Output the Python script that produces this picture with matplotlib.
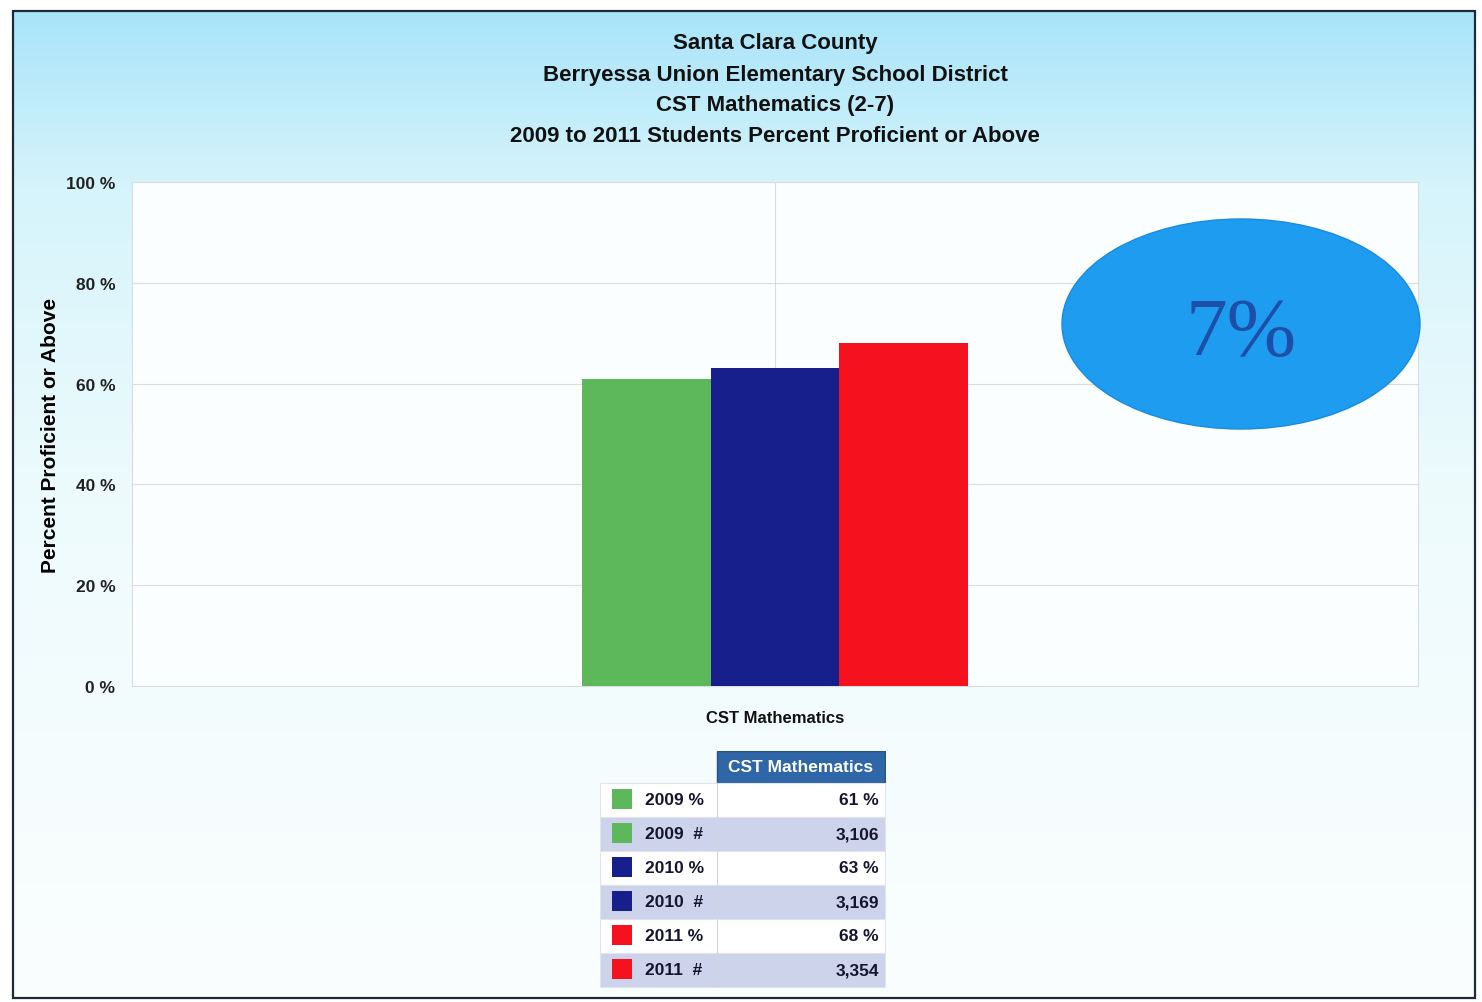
import matplotlib.pyplot as plt
import numpy as np
from matplotlib.patches import Rectangle, Ellipse
from matplotlib.colors import LinearSegmentedColormap

# Data
years = ['2009', '2010', '2011']
pct = [61, 63, 68]
counts = ['3,106', '3,169', '3,354']
colors = ['#5cb85a', '#161f8c', '#f5121e']
category = 'CST Mathematics'
title_lines = ['Santa Clara County',
               'Berryessa Union Elementary School District',
               'CST Mathematics (2-7)',
               '2009 to 2011 Students Percent Proficient or Above']
yticks = [0, 20, 40, 60, 80, 100]
change_label = '7%'

plt.rcParams['font.family'] = ['Liberation Sans', 'DejaVu Sans']

W, H = 1482, 1003
fig = plt.figure(figsize=(W / 100, H / 100), dpi=100)

# background gradient inside the frame
bg = fig.add_axes([0, 0, 1, 1])
bg.set_xlim(0, W)
bg.set_ylim(H, 0)
bg.axis('off')
cmap = LinearSegmentedColormap.from_list('bg', [(0, '#a9e4f9'), (0.18, '#d6f4fb'),
                                                (0.5, '#eefbfd'), (1, '#fbfefe')])
grad = np.linspace(0, 1, 256).reshape(-1, 1)
bg.imshow(grad, cmap=cmap, aspect='auto', extent=(13, 1475, 999, 12), zorder=0)
bg.add_patch(Rectangle((13, 12), 1462, 987, fill=False, edgecolor='#1c2a3a', lw=1.6, zorder=2))

# titles
for i, line in enumerate(title_lines):
    fig.text(775 / W, 1 - (44 + 31 * i) / H, line, ha='center', va='center',
             fontsize=16, fontweight='bold', color='#111111')

# main chart
ax = fig.add_axes([132 / W, 1 - 687 / H, 1286 / W, 504 / H])
ax.set_facecolor('#fafefe')
x = np.array([-0.2, 0.0, 0.2])
ax.bar(x, pct, width=0.2, color=colors, zorder=3)
ax.set_xlim(-1, 1)
ax.set_ylim(0, 100)
ax.set_yticks(yticks)
ax.set_yticklabels([f'{v} %' for v in yticks], fontsize=12.5, fontweight='bold', color='#222222')
ax.set_xticks([0])
ax.set_xticklabels([category], fontsize=12, fontweight='bold', color='#111111')
ax.tick_params(axis='y', length=0, pad=12)
ax.tick_params(axis='x', length=0, pad=17)
ax.grid(True, color='#dcdcdc', lw=0.8, zorder=0)
for s in ax.spines.values():
    s.set_color('#d8dde0')
    s.set_linewidth(0.8)
ax.set_ylabel('Percent Proficient or Above', fontsize=15, fontweight='bold', labelpad=4)

# change bubble
fig.patches.append(Ellipse((1241 / W, 1 - 325 / H), 358 / W, 210 / H, transform=fig.transFigure,
                           facecolor='#1e9cf0', edgecolor='#1a8ae0', lw=1, zorder=5))
fig.text(1241 / W, 1 - 335 / H, change_label, ha='center', va='center', fontsize=60,
         family='Liberation Serif', color='#1d4fa8', zorder=6)

# data table below
tb = fig.add_axes([600 / W, 1 - 989 / H, 286 / W, 237 / H])
tb.set_xlim(600, 886)
tb.set_ylim(989, 752)
tb.axis('off')
tb.add_patch(Rectangle((717, 752), 168, 32, facecolor='#2f66a8', edgecolor='#2a4f80', lw=1))
tb.text(801, 768, category, ha='center', va='center', fontsize=12.5, fontweight='bold', color='white')
row_h = 34
rows = []
for i, yr in enumerate(years):
    rows.append((yr + ' %', f'{pct[i]} %', colors[i]))
    rows.append((yr + '  #', counts[i], colors[i]))
for j, (lab, val, c) in enumerate(rows):
    y0 = 784 + j * row_h
    fc = 'white' if j % 2 == 0 else '#cdd3ea'
    tb.add_patch(Rectangle((600, y0), 285, row_h, facecolor=fc, edgecolor='#e2e4ec', lw=0.8))
    tb.add_patch(Rectangle((612, y0 + 6), 20, 20, facecolor=c, edgecolor='none'))
    tb.text(645, y0 + row_h / 2, lab, ha='left', va='center', fontsize=12.5, fontweight='bold', color='#151530')
    tb.text(879, y0 + row_h / 2, val, ha='right', va='center', fontsize=12.5, fontweight='bold', color='#151530')
tb.plot([717, 717], [784, 988], color='#d0d4e0', lw=0.8)

fig.savefig('out.png', dpi=100)
